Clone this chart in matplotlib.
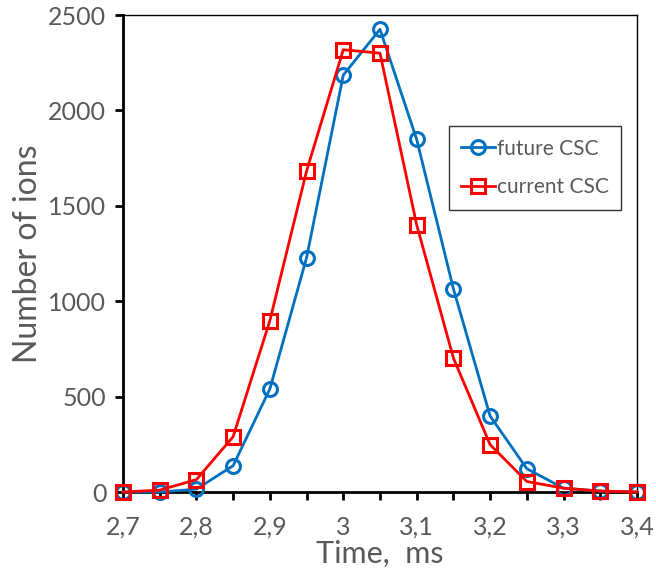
import matplotlib
matplotlib.use("Agg")
import matplotlib.pyplot as plt
from matplotlib.ticker import MultipleLocator, FuncFormatter

time_ms = [2.70, 2.75, 2.80, 2.85, 2.90, 2.95, 3.00, 3.05, 3.10, 3.15, 3.20, 3.25, 3.30, 3.35, 3.40]
future_csc = [0, 0, 15, 138, 540, 1228, 2185, 2425, 1848, 1065, 398, 122, 20, 5, 0]
current_csc = [0, 10, 65, 290, 898, 1682, 2318, 2300, 1400, 702, 248, 55, 20, 5, 0]

plt.rcParams['font.family'] = ['Lato', 'DejaVu Sans']
grey = '#595959'

fig = plt.figure(figsize=(6.56, 5.77), dpi=100)
ax = fig.add_axes([0.1875, 0.1473, 0.7835, 0.8267])

ax.plot(time_ms, future_csc, color='#0070C0', lw=2, marker='o', ms=10,
        mfc='none', mec='#0070C0', mew=2.2, label='future CSC', zorder=3,
        clip_on=False)
ax.plot(time_ms, current_csc, color='#FF0000', lw=2, marker='s', ms=10,
        mfc='none', mec='#FF0000', mew=2.2, label='current CSC', zorder=4,
        clip_on=False)

ax.set_xlim(2.7, 3.4)
ax.set_ylim(0, 2500)
ax.xaxis.set_major_locator(MultipleLocator(0.1))
ax.xaxis.set_minor_locator(MultipleLocator(0.05))
ax.yaxis.set_major_locator(MultipleLocator(500))

def comma_fmt(v, pos):
    s = f"{v:.1f}"
    if s.endswith('.0'):
        s = s[:-2]
    return s.replace('.', ',')

ax.xaxis.set_major_formatter(FuncFormatter(comma_fmt))

for side in ['left', 'bottom']:
    ax.spines[side].set_linewidth(2)
    ax.spines[side].set_color('black')
for side in ['top', 'right']:
    ax.spines[side].set_linewidth(1)
    ax.spines[side].set_color('black')

ax.tick_params(axis='both', which='both', direction='out', length=6, width=2,
               color='black', labelsize=18, labelcolor=grey)
ax.tick_params(axis='x', which='both', pad=11)
ax.tick_params(axis='y', which='both', pad=6)

ax.set_xlabel('Time,  ms', fontsize=22, color=grey, labelpad=1)
ax.set_ylabel('Number of ions', fontsize=23, color=grey, labelpad=4)

leg = ax.legend(loc='upper left', bbox_to_anchor=(0.634, 0.767), fontsize=15,
                frameon=True, fancybox=False, edgecolor='black',
                handlelength=1.6, handletextpad=0.1, borderpad=0.6,
                labelspacing=0.9, borderaxespad=0)
leg.get_frame().set_linewidth(1)
for t in leg.get_texts():
    t.set_color(grey)

fig.savefig('out.png', dpi=100)
